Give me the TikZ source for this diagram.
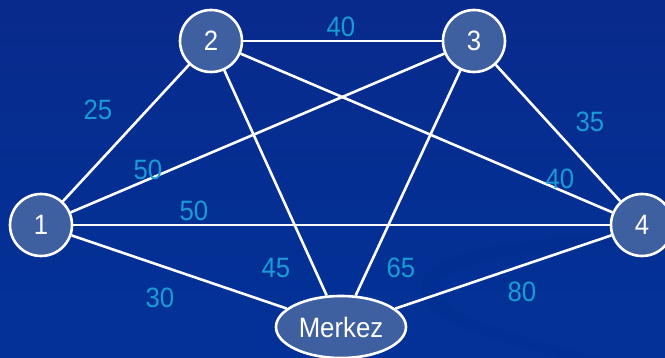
\documentclass[tikz,border=0pt]{standalone}
\usepackage{fontspec}
\setmainfont[FakeStretch=0.92]{Liberation Sans}
\usetikzlibrary{shapes.geometric}
\definecolor{bgblue}{RGB}{2,50,152}
\definecolor{bgtop}{RGB}{8,42,140}
\definecolor{nodeblue}{RGB}{62,95,160}
\definecolor{labblue}{RGB}{25,155,215}
\definecolor{swoosh}{RGB}{0,44,140}
\tikzset{
  vert/.style={circle, draw=white, line width=2.6pt, fill=nodeblue, minimum size=62pt, inner sep=0pt, text=white, font=\fontsize{28}{28}\selectfont},
  hub/.style={ellipse, draw=white, line width=2.6pt, fill=nodeblue, minimum width=130pt, minimum height=62pt, inner sep=0pt, text=white, font=\fontsize{28}{28}\selectfont},
  edge/.style={draw=white, line width=2.6pt},
  wlab/.style={text=labblue, inner sep=0pt, font=\fontsize{28}{28}\selectfont}
}
\begin{document}
\begin{tikzpicture}[x=1pt,y=-1pt]
\useasboundingbox (0,0) rectangle (665,358);
\shade[top color=bgtop, bottom color=bgblue] (0,0) rectangle (665,358);
\fill[swoosh, opacity=0.35] (665,232) .. controls (520,236) and (400,250) .. (425,300) .. controls (440,330) and (520,345) .. (560,358) -- (600,358) .. controls (520,335) and (450,320) .. (440,295) .. controls (425,258) and (560,245) .. (665,245) -- cycle;
\node[vert] (n1) at (41,225) {1};
\node[vert] (n2) at (211,41) {2};
\node[vert] (n3) at (474,41) {3};
\node[vert] (n4) at (642,225) {4};
\node[hub] (m) at (341,327) {Merkez};
\path[edge] (n1) -- (n2);
\path[edge] (n1) -- (n3);
\path[edge] (n1) -- (n4);
\path[edge] (n1) -- (m);
\path[edge] (n2) -- (n3);
\path[edge] (n2) -- (n4);
\path[edge] (n2) -- (m);
\path[edge] (n3) -- (n4);
\path[edge] (n3) -- (m);
\path[edge] (n4) -- (m);
\node[wlab] (l23) at (341,27) {40};
\node[wlab] (l12) at (98,110) {25};
\node[wlab] (l34) at (590,122) {35};
\node[wlab] (l13) at (148,170) {50};
\node[wlab] (l24) at (560,179) {40};
\node[wlab] (l14) at (194,211) {50};
\node[wlab] (l2m) at (276,268) {45};
\node[wlab] (l3m) at (401,268) {65};
\node[wlab] (l1m) at (160,298) {30};
\node[wlab] (l4m) at (522,292) {80};
\end{tikzpicture}
\end{document}
